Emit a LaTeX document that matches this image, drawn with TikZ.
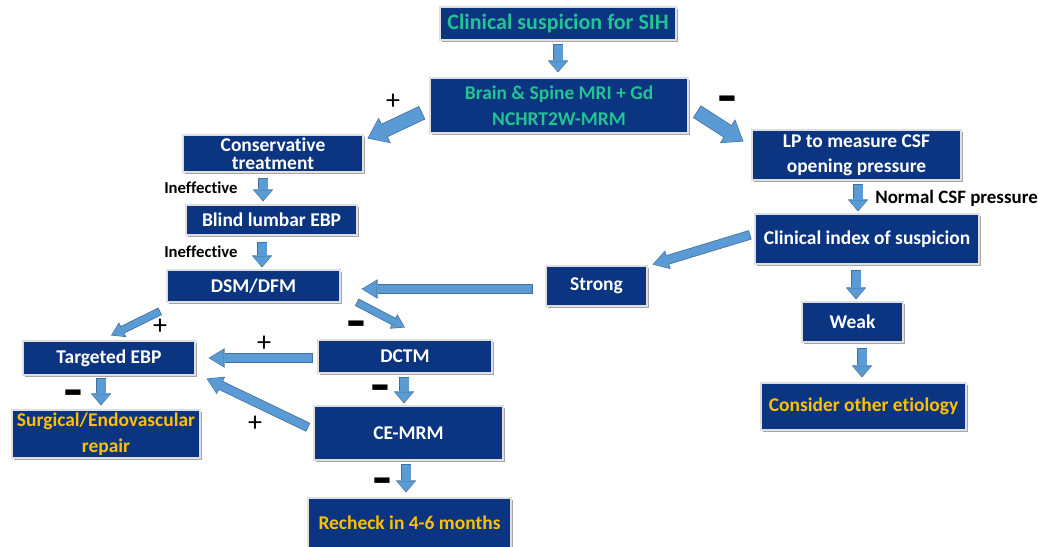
\documentclass[tikz,border=0pt]{standalone}
\usepackage{fontspec}
\setmainfont{Carlito}[Ligatures=NoCommon]
\newfontfamily\dejavu{DejaVu Sans}
\usetikzlibrary{arrows.meta,calc,shadows}
\definecolor{boxblue}{HTML}{0B3580}
\definecolor{afill}{HTML}{5B9BD5}
\definecolor{aline}{HTML}{41719C}
\definecolor{tealtxt}{HTML}{22C493}
\definecolor{goldtxt}{HTML}{FFC000}
\tikzset{
  box/.style={draw=gray!25, line width=0.8pt, fill=boxblue, text=white,
    font=\fontsize{14.6}{16}\selectfont\bfseries, align=center, inner sep=0pt,
    drop shadow={shadow xshift=1.6pt, shadow yshift=-1.6pt, opacity=0.35, fill=black}},
  teal/.style={text=tealtxt},
  gold/.style={text=goldtxt},
  note/.style={font=\fontsize{12.5}{14}\selectfont\bfseries, inner sep=0pt, anchor=west},
  pm/.style={font=\fontsize{21}{22}\selectfont, inner sep=0pt},
  mn/.style={font=\dejavu\fontsize{13}{15}\selectfont, inner sep=0pt, xscale=1.15, yscale=0.85},
  bigout/.style={draw=aline, line width=10.95pt, shorten <=-0.6pt, -{Triangle[width=21.3pt,length=14.25pt,line width=0pt]}},
  bigin/.style={draw=afill, line width=9.75pt, shorten >=0.9pt, -{Triangle[width=19.5pt,length=12.75pt,line width=0pt]}},
  medout/.style={draw=aline, line width=7.2pt, shorten <=-0.6pt, -{Triangle[width=14.55pt,length=12pt,line width=0pt]}},
  medin/.style={draw=afill, line width=6pt, shorten >=0.9pt, -{Triangle[width=12.75pt,length=10.5pt,line width=0pt]}},
  smallout/.style={draw=aline, line width=7.95pt, shorten <=-0.6pt, -{Triangle[width=15.3pt,length=9pt,line width=0pt]}},
  smallin/.style={draw=afill, line width=6.75pt, shorten >=0.9pt, -{Triangle[width=13.5pt,length=7.5pt,line width=0pt]}},
  thinout/.style={draw=aline, line width=6.1pt, shorten <=-0.6pt, -{Triangle[width=12.3pt,length=9.75pt,line width=0pt]}},
  thinin/.style={draw=afill, line width=4.9pt, shorten >=0.9pt, -{Triangle[width=10.5pt,length=8.25pt,line width=0pt]}},
}
\newcommand\barrow[3]{\draw[#1out] #2 -- #3; \draw[#1in] #2 -- #3;}
\begin{document}
\begin{tikzpicture}[x=0.75pt,y=-0.75pt]
\useasboundingbox (0,0) rectangle (1038,546);
% boxes
\node[box,teal,minimum width=177pt,minimum height=24.75pt,font=\fontsize{16.5}{18}\selectfont\bfseries] (top) at (558,23.5) {Clinical suspicion for SIH};
\node[box,teal,minimum width=193.5pt,minimum height=41.25pt,font=\fontsize{14.6}{19.5}\selectfont\bfseries] (mri) at (559,105.5) {Brain \& Spine MRI + Gd\\NCHRT2W-MRM};
\node[box,minimum width=135pt,minimum height=27.75pt,font=\fontsize{14.6}{13.8}\selectfont\bfseries] (cons) at (273,153.5) {Conservative\\treatment};
\node[box,minimum width=128.25pt,minimum height=22.5pt] (blind) at (271.5,220) {Blind lumbar EBP};
\node[box,minimum width=129.75pt,minimum height=24pt] (dsm) at (253.5,286) {DSM/DFM};
\node[box,minimum width=129pt,minimum height=25.5pt] (tebp) at (109,358) {Targeted EBP};
\node[box,gold,minimum width=141pt,minimum height=36pt,font=\fontsize{14.6}{19.5}\selectfont\bfseries] (surg) at (106,434) {Surgical/Endovascular\\repair};
\node[box,minimum width=130.5pt,minimum height=24.75pt] (dctm) at (405,356.5) {DCTM};
\node[box,minimum width=141.75pt,minimum height=40.5pt] (cemrm) at (408.5,433) {CE-MRM};
\node[box,gold,minimum width=152.25pt,minimum height=37.5pt] (recheck) at (409.5,523) {Recheck in 4-6 months};
\node[box,minimum width=156.75pt,minimum height=37.5pt,font=\fontsize{14.6}{18.75}\selectfont\bfseries] (lp) at (856.5,155) {LP to measure CSF\\opening pressure};
\node[box,minimum width=168pt,minimum height=37.5pt] (cidx) at (867,239) {Clinical index of suspicion};
\node[box,minimum width=75.75pt,minimum height=30pt] (strong) at (596.5,286) {Strong};
\node[box,minimum width=75.75pt,minimum height=30pt] (weak) at (852.5,322) {Weak};
\node[box,gold,minimum width=153.75pt,minimum height=35.25pt] (other) at (863.5,406.5) {Consider other etiology};
% arrows
\barrow{small}{($(top.south)+(0,4)$)}{($(mri.north)+(-1,-5)$)}
\barrow{big}{($(mri.west)+(-8,7.5)$)}{($(cons.north east)+(4,4)$)}
\barrow{big}{($(mri.east)+(9,6.5)$)}{($(lp.north west)+(-8,12)$)}
\barrow{small}{($(cons.south)+(-10,6)$)}{($(blind.north)+(-8.5,-3)$)}
\barrow{small}{($(blind.south)+(-9.5,7)$)}{($(dsm.north)+(8.5,-2)$)}
\barrow{small}{($(lp.south)+(1.5,4)$)}{($(cidx.north)+(-9,-2)$)}
\barrow{med}{($(cidx.west)+(-5,-4)$)}{($(strong.north east)+(5,-1)$)}
\barrow{med}{($(strong.west)+(-13,3)$)}{($(dsm.east)+(21,3)$)}
\barrow{thin}{($(dsm.south west)+(-7,9)$)}{($(tebp.north)+(2,-5)$)}
\barrow{thin}{($(dsm.south east)+(17,0)$)}{($(dctm.north)+(0,-12)$)}
\barrow{med}{($(dctm.west)+(-5,1.5)$)}{($(tebp.east)+(13,0)$)}
\barrow{med}{($(cemrm.west)+(-6,-6)$)}{($(tebp.south east)+(11,3)$)}
\barrow{small}{($(tebp.south)+(-8,3)$)}{($(surg.north)+(-5,-4)$)}
\barrow{small}{($(dctm.south)+(-1,4)$)}{($(cemrm.north)+(-4.5,-2)$)}
\barrow{small}{($(cemrm.south)+(-2.5,4)$)}{($(recheck.north)+(-3.5,-5)$)}
\barrow{small}{($(cidx.south)+(-11,6)$)}{($(weak.north)+(3.5,-2)$)}
\barrow{small}{($(weak.south)+(9.5,6)$)}{($(other.north)+(-1.5,-5)$)}
% labels
\node[note] (ineff1) at (164,188) {Ineffective};
\node[note] (ineff2) at (164,252) {Ineffective};
\node[note,font=\fontsize{14.2}{15}\selectfont\bfseries] (normal) at (875,198) {Normal CSF pressure};
\node[pm] (p1) at (393,102) {+};
\node[pm] (p2) at (160,327) {+};
\node[pm] (p3) at (264,344) {+};
\node[pm] (p4) at (255,424) {+};
\node[mn] (m1) at (727,99) {▬};
\node[mn] (m2) at (356,324) {▬};
\node[mn] (m3) at (380,388) {▬};
\node[mn] (m4) at (73,393) {▬};
\node[mn] (m5) at (382,481) {▬};
\end{tikzpicture}
\end{document}
